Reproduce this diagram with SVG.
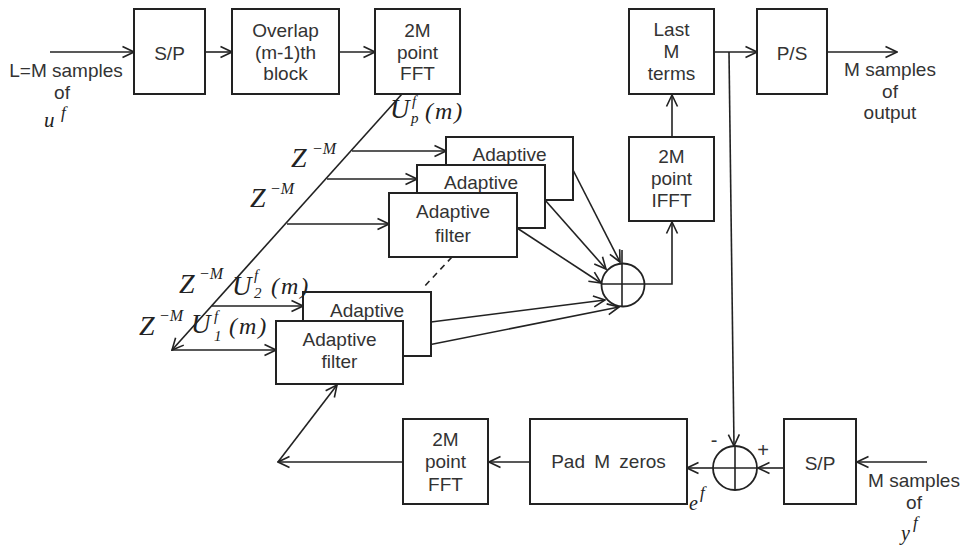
<svg xmlns="http://www.w3.org/2000/svg" width="962" height="548" viewBox="0 0 962 548">
<defs>
<marker id="ah" viewBox="-13 -7 14 14" refX="0" refY="0" markerWidth="14" markerHeight="14" markerUnits="userSpaceOnUse" orient="auto">
<path d="M-11.5,-5.5 L0,0 L-11.5,5.5" fill="none" stroke="#222" stroke-width="1.6"/>
</marker>
</defs>
<style>
.box{fill:#fff;stroke:#222;stroke-width:2}
.t{font-family:"Liberation Sans",Arial,sans-serif;font-size:19px;fill:#333;text-anchor:middle}
.c{fill:none;stroke:#222;stroke-width:1.6}
.a{fill:none;stroke:#222;stroke-width:1.6;marker-end:url(#ah)}
.m{font-family:"Liberation Serif","Times New Roman",serif;font-style:italic;fill:#222}
.z{font-size:28px}
.s{font-size:16px}
.u{font-size:27px}
.f{font-size:15px}
.p{font-size:24px;letter-spacing:2px}
</style>
<rect width="962" height="548" fill="#fff"/>

<g id="connectors">
<line class="a" x1="50" y1="52" x2="134" y2="52"/>
<line class="a" x1="205" y1="52" x2="232" y2="52"/>
<line class="a" x1="339" y1="52" x2="375" y2="52"/>
<line class="a" x1="714" y1="52" x2="757" y2="52"/>
<line class="a" x1="827" y1="52" x2="897" y2="52"/>
<line class="a" x1="729" y1="52" x2="734" y2="446"/>
<line class="a" x1="672" y1="137" x2="672" y2="95"/>
<polyline class="a" points="644,284 672,284 672,222"/>
<line class="a" x1="402" y1="94" x2="172" y2="350"/>
<line class="a" x1="352" y1="151" x2="446" y2="151"/>
<line class="a" x1="327" y1="179" x2="417" y2="179"/>
<line class="a" x1="287" y1="224" x2="389" y2="224"/>
<line class="a" x1="212" y1="306" x2="303" y2="306"/>
<line class="a" x1="172" y1="350" x2="276" y2="350"/>
<line class="a" x1="573" y1="170" x2="620" y2="262"/>
<line class="a" x1="545" y1="200" x2="606" y2="269"/>
<line class="a" x1="517" y1="228" x2="601" y2="283"/>
<line class="a" x1="431" y1="322" x2="605" y2="300"/>
<line class="a" x1="403" y1="350" x2="619" y2="307"/>
<line class="c" x1="452" y1="257" x2="422" y2="289" stroke-dasharray="6,5"/>
<line class="a" x1="927" y1="462" x2="857" y2="462"/>
<line class="a" x1="784" y1="468" x2="758" y2="468"/>
<line class="a" x1="713" y1="468" x2="687" y2="468"/>
<line class="a" x1="530" y1="462" x2="489" y2="462"/>
<line class="a" x1="403" y1="462" x2="278" y2="462"/>
<line class="a" x1="278" y1="462" x2="337" y2="385"/>
</g>

<g id="sp_in">
<rect class="box" x="134" y="9" width="71" height="85"/>
<text class="t" x="169.5" y="60">S/P</text>
</g>
<g id="overlap">
<rect class="box" x="232" y="9" width="107" height="85"/>
<text class="t" x="285.5" y="37">Overlap</text>
<text class="t" x="285.5" y="58.5">(m-1)th</text>
<text class="t" x="285.5" y="80">block</text>
</g>
<g id="fft_top">
<rect class="box" x="375" y="9" width="85" height="85"/>
<text class="t" x="417.5" y="37">2M</text>
<text class="t" x="417.5" y="58.5">point</text>
<text class="t" x="417.5" y="80">FFT</text>
</g>
<g id="last_m">
<rect class="box" x="629" y="9" width="85" height="85"/>
<text class="t" x="671.5" y="36">Last</text>
<text class="t" x="671.5" y="58">M</text>
<text class="t" x="671.5" y="80">terms</text>
</g>
<g id="ps">
<rect class="box" x="757" y="9" width="70" height="85"/>
<text class="t" x="792" y="60">P/S</text>
</g>
<g id="ifft">
<rect class="box" x="629" y="137" width="85" height="84"/>
<text class="t" x="671.5" y="163">2M</text>
<text class="t" x="671.5" y="185">point</text>
<text class="t" x="671.5" y="207">IFFT</text>
</g>
<g id="adaptive_p">
<rect class="box" x="446" y="137" width="127" height="63"/>
<text class="t" x="509.5" y="161">Adaptive</text>
</g>
<g id="adaptive_3">
<rect class="box" x="417" y="165" width="128" height="63"/>
<text class="t" x="481" y="189">Adaptive</text>
</g>
<g id="adaptive_4">
<rect class="box" x="389" y="193" width="128" height="64"/>
<text class="t" x="453" y="218">Adaptive</text>
<text class="t" x="453" y="242">filter</text>
</g>
<g id="adaptive_2">
<rect class="box" x="303" y="292" width="128" height="64"/>
<text class="t" x="367" y="317">Adaptive</text>
</g>
<g id="adaptive_1">
<rect class="box" x="276" y="321" width="127" height="63"/>
<text class="t" x="339.5" y="346">Adaptive</text>
<text class="t" x="339.5" y="368">filter</text>
</g>
<g id="sum_top">
<circle cx="623" cy="285" r="21.5" fill="none" stroke="#222" stroke-width="1.8"/>
<line class="c" x1="622" y1="250" x2="622" y2="307"/>
<line class="c" x1="601" y1="284" x2="644" y2="284"/>
</g>
<g id="sum_bottom">
<circle cx="735" cy="468" r="22" fill="none" stroke="#222" stroke-width="1.8"/>
<line class="c" x1="735" y1="446" x2="735" y2="490"/>
<line class="c" x1="713" y1="468" x2="757" y2="468"/>
<text class="t" x="714" y="447" style="font-size:20px">-</text>
<text class="t" x="763" y="457" style="font-size:20px">+</text>
</g>
<g id="sp_bottom">
<rect class="box" x="784" y="419" width="72" height="85"/>
<text class="t" x="820" y="470">S/P</text>
</g>
<g id="pad">
<rect class="box" x="530" y="419" width="157" height="85"/>
<text class="t" x="608.5" y="468" style="word-spacing:4px">Pad M zeros</text>
</g>
<g id="fft_bottom">
<rect class="box" x="403" y="419" width="85" height="85"/>
<text class="t" x="445.5" y="446">2M</text>
<text class="t" x="445.5" y="468">point</text>
<text class="t" x="445.5" y="491">FFT</text>
</g>

<g id="labels">
<text class="t" x="66" y="77">L=M samples</text>
<text class="t" x="62" y="99">of</text>
<text class="m" x="44" y="127" style="font-size:21px">u</text>
<text class="m" x="61" y="118" style="font-size:17px">f</text>
<text class="t" x="890" y="76">M samples</text>
<text class="t" x="890" y="98">of</text>
<text class="t" x="890" y="119">output</text>
<text class="t" x="914" y="487">M samples</text>
<text class="t" x="914" y="509">of</text>
<text class="m" x="901" y="540" style="font-size:20px">y</text>
<text class="m" x="913" y="528" style="font-size:17px">f</text>
<text class="m" x="689" y="510" style="font-size:20px">e</text>
<text class="m" x="700" y="498" style="font-size:17px">f</text>

<text class="m z" x="291" y="167">Z</text><text class="m s" x="312" y="154">−M</text>
<text class="m z" x="250" y="207">Z</text><text class="m s" x="270" y="194">−M</text>
<text class="m z" x="179" y="293">Z</text><text class="m s" x="199" y="279">−M</text>
<text class="m z" x="139" y="335">Z</text><text class="m s" x="159" y="321">−M</text>

<text class="m u" x="390" y="118">U</text><text class="m f" x="412" y="106">f</text><text class="m f" x="411" y="123">p</text><text class="m p" x="425" y="119">(m)</text>
<text class="m u" x="232" y="295">U</text><text class="m f" x="254" y="280">f</text><text class="m f" x="254" y="298">2</text><text class="m p" x="271" y="294">(m)</text>
<text class="m u" x="191" y="333">U</text><text class="m f" x="214" y="321">f</text><text class="m f" x="214" y="341">1</text><text class="m p" x="229" y="334">(m)</text>
</g>
</svg>
